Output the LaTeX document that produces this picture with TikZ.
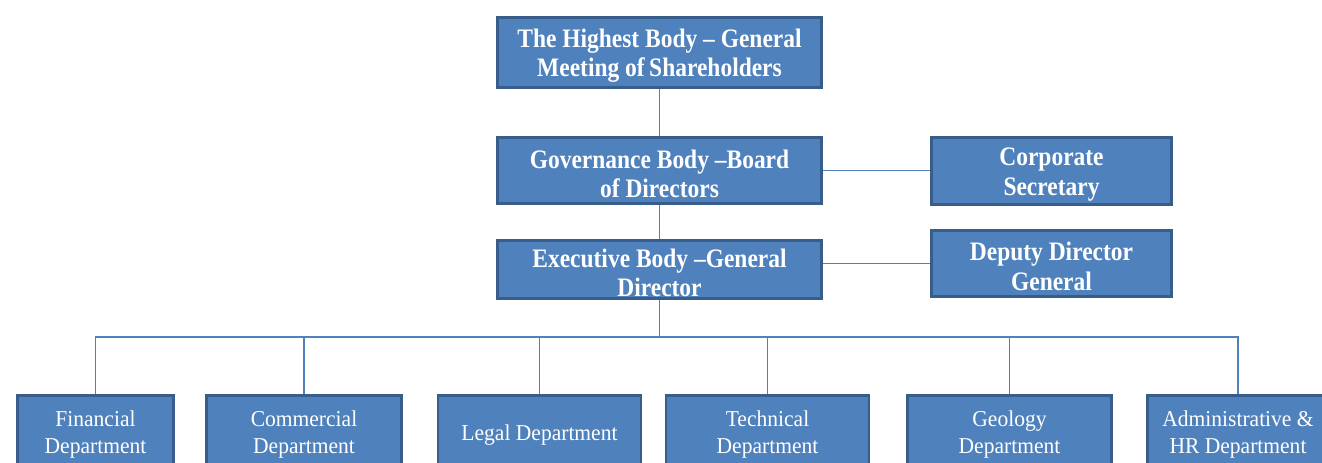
\documentclass[tikz,border=0pt]{standalone}
\usepackage{fontspec}
\setmainfont{Liberation Serif}
\newfontfamily\boxfont[FakeStretch=0.88, Ligatures=TeX]{Liberation Serif}
\newfontfamily\deptfont[FakeStretch=0.95, Ligatures=TeX]{Liberation Serif}
\usepackage{xcolor}
\usetikzlibrary{positioning}
\definecolor{boxblue}{HTML}{4F81BD}
\definecolor{boxedge}{HTML}{385D8A}
\tikzset{
    % Box styles
    unit/.style={rectangle, draw=boxedge, line width=2.2pt, fill=boxblue,
                 text=white, align=flush center, inner sep=0pt},
    body/.style={unit, font=\boxfont\fontsize{20}{21.5}\selectfont\bfseries,
                 minimum width=243pt, text width=230pt,
                 execute at begin node={\rule{0pt}{18.5pt}}},
    side/.style={unit, font=\boxfont\fontsize{20}{22.5}\selectfont\bfseries,
                 minimum width=180pt, text width=170pt,
                 execute at begin node={\rule{0pt}{18.5pt}}},
    dept/.style={unit, font=\deptfont\fontsize{17}{20}\selectfont,
                 minimum height=55pt, text width=116pt,
                 execute at begin node={\rule{0pt}{16pt}}},
    % Connector style
    link/.style={draw=boxblue, line width=0.9pt},
}

\begin{document}
\begin{tikzpicture}[x=0.75pt, y=-0.75pt]
    \useasboundingbox (0,0) rectangle (1322,463);
    \clip (0,0) rectangle (1322,463);

    % Governing bodies
    \node[body, minimum height=52.5pt] (meeting) at (659.5, 52.5)
        {The Highest Body -- General\\Meeting of\,Shareholders};
    \node[body, minimum height=49.5pt] (board) at (659.5, 170.5)
        {Governance Body --Board\\of Directors};
    \node[body, minimum height=43.5pt] (gendir) at (659.5, 269.5)
        {Executive Body --General\\Director};

    % Side units
    \node[side, minimum height=50.25pt] (secretary) at (1051.5, 171)
        {Corporate\\Secretary};
    \node[side, minimum height=49.5pt] (deputy) at (1051.5, 263.5)
        {Deputy Director\\General};

    % Departments
    \node[dept, minimum width=117pt] (finance) at (95.5, 432) {Financial\\Department};
    \node[dept, minimum width=146.25pt] (commerce) at (304, 432) {Commercial\\Department};
    \node[dept, minimum width=152.25pt, text width=140pt] (legal) at (539.5, 432) {Legal Department};
    \node[dept, minimum width=152.25pt] (tech) at (767.5, 432) {Technical\\Department};
    \node[dept, minimum width=153pt] (geology) at (1009.5, 432) {Geology\\Department};
    \node[dept, minimum width=136pt] (admin) at (1238, 432) {Administrative \&\\HR Department};

    % Connectors
    \draw[link] (meeting) -- (board);
    \draw[link] (board) -- (gendir);
    \draw[link] (board.east) -- (board.east -| secretary.west);
    \draw[link] (deputy.west) -- (deputy.west -| gendir.east);

    \coordinate (bus) at (659.5, 337);
    \draw[link] (gendir) -- (bus);
    \draw[link] (bus) -| (finance.north);
    \draw[link] (bus) -| (commerce.north);
    \draw[link] (bus) -| (legal.north);
    \draw[link] (bus) -| (tech.north);
    \draw[link] (bus) -| (geology.north);
    \draw[link] (bus) -| (admin.north);
\end{tikzpicture}
\end{document}
